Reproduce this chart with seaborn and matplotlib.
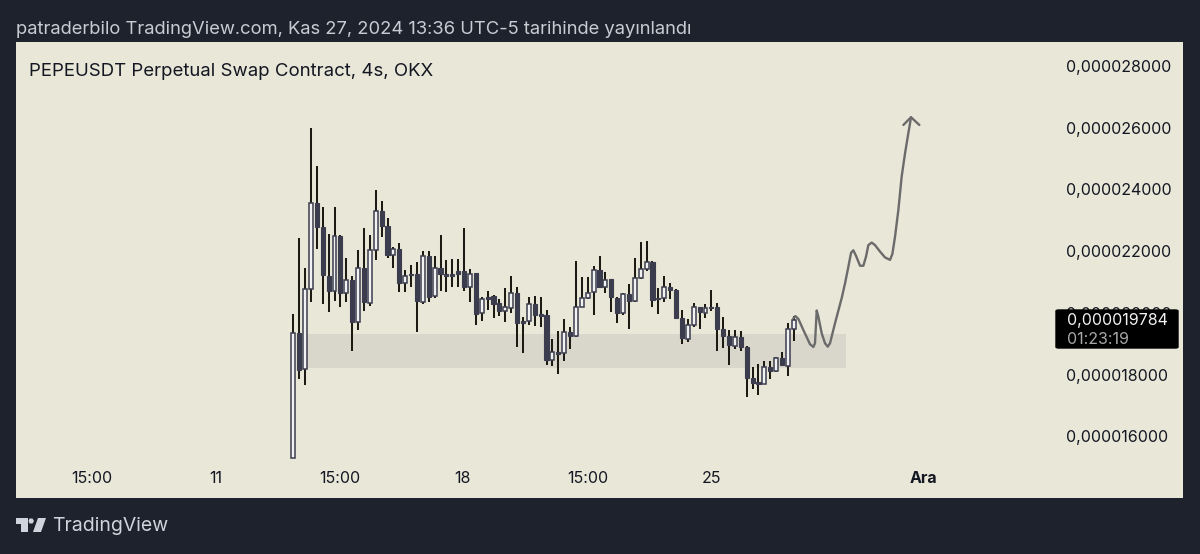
import numpy as np
import pandas as pd
import seaborn as sns
import matplotlib.pyplot as plt
from matplotlib.patches import Polygon, FancyBboxPatch

# prices in units of 1e-6
opens = [15.29, 19.34, 18.18, 20.78, 23.57, 22.80, 21.21, 20.72, 22.50, 20.64,
         21.07, 19.71, 21.45, 20.31, 22.04, 23.31, 22.82, 21.89, 22.06, 20.98,
         21.26, 21.26, 20.37, 21.86, 20.55, 21.45, 21.25, 21.27, 21.36, 21.36,
         20.84, 21.28, 19.99, 20.53, 20.55, 20.31, 20.07, 20.17, 20.66, 19.74,
         19.74, 20.29, 19.95, 19.92, 18.48, 18.75, 18.69, 19.37, 19.26, 20.21,
         20.48, 20.68, 21.39, 20.83, 21.09, 20.50, 19.99, 20.62, 20.39, 21.12,
         21.41, 21.66, 20.49, 20.48, 20.85, 20.75, 19.84, 19.15, 19.61, 20.18,
         20.01, 20.19, 20.18, 19.49, 19.26, 18.94, 19.23, 18.91, 17.91, 17.74,
         17.70, 18.26, 18.11, 18.54, 18.28, 19.49]
closes = [19.34, 18.15, 20.77, 23.57, 22.80, 21.23, 20.72, 22.49, 20.64, 21.07,
          19.71, 21.45, 20.35, 22.04, 23.29, 22.82, 21.88, 22.06, 20.98, 21.20,
          21.22, 20.40, 21.86, 20.53, 21.45, 21.25, 21.20, 21.20, 21.27, 20.83,
          21.26, 19.97, 20.45, 20.45, 20.29, 20.07, 20.18, 20.64, 19.67, 19.67,
          20.29, 19.92, 19.91, 18.48, 18.75, 18.68, 19.37, 19.27, 20.21, 20.48,
          20.66, 21.39, 20.83, 21.07, 20.51, 20.01, 20.62, 20.39, 21.12, 21.41,
          21.66, 20.42, 20.44, 20.85, 20.75, 19.83, 19.18, 19.61, 20.18, 20.02,
          20.15, 20.15, 19.49, 19.26, 18.95, 19.23, 18.91, 17.91, 17.72, 17.71,
          18.26, 18.12, 18.54, 18.32, 19.49, 19.784]
highs = [19.97, 22.42, 21.45, 25.98, 24.76, 23.44, 22.56, 23.42, 22.53, 21.77,
         21.20, 22.04, 22.76, 22.51, 23.98, 23.63, 23.07, 22.13, 22.26, 21.39,
         21.56, 21.66, 22.00, 22.02, 21.83, 22.54, 21.72, 21.74, 21.75, 22.76,
         21.43, 21.31, 20.53, 20.71, 20.58, 20.44, 20.82, 21.20, 20.83, 19.86,
         20.53, 20.55, 20.53, 20.10, 19.16, 19.42, 19.82, 19.56, 21.67, 21.16,
         21.18, 21.53, 21.84, 21.34, 21.09, 20.51, 20.64, 20.93, 21.78, 22.31,
         22.32, 21.70, 20.80, 21.20, 20.96, 20.77, 20.10, 19.81, 20.33, 20.21,
         20.29, 20.75, 20.31, 19.86, 19.45, 19.45, 19.43, 18.94, 18.24, 18.35,
         18.46, 18.46, 18.59, 18.73, 19.67, 19.90]
lows = [15.29, 17.85, 17.67, 20.37, 22.07, 20.29, 20.04, 20.40, 20.18, 20.34,
        18.78, 19.45, 20.08, 20.24, 21.72, 22.47, 21.79, 21.45, 20.67, 20.67,
        20.83, 19.40, 20.30, 20.37, 20.50, 20.71, 20.69, 20.83, 20.83, 20.72,
        20.37, 19.61, 19.74, 20.10, 19.83, 19.90, 19.71, 20.01, 18.89, 18.69,
        19.61, 19.58, 19.56, 18.33, 18.29, 18.02, 18.45, 18.83, 19.23, 20.18,
        20.45, 19.94, 20.81, 20.66, 20.02, 19.69, 19.94, 19.48, 20.37, 21.10,
        21.37, 20.18, 19.96, 20.37, 20.44, 19.81, 19.00, 19.07, 19.56, 19.47,
        19.83, 20.07, 18.78, 18.86, 18.32, 18.83, 18.78, 17.27, 17.53, 17.34,
        17.69, 17.86, 18.10, 18.28, 17.96, 19.10]

# hand drawn projection
path_x = [84.92, 85.26, 85.77, 86.62, 87.75, 88.32, 88.60, 88.89, 89.17, 89.74,
          90.30, 90.76, 91.15, 92.00, 93.13, 93.70, 94.27, 94.72, 95.11, 95.57,
          96.25, 96.81, 97.27, 97.66, 98.23, 98.79, 99.64, 100.49, 101.34, 101.74,
          102.19, 102.76, 103.32, 103.89, 104.45, 104.91]
path_y = [19.83, 19.90, 19.81, 19.45, 18.99, 18.90, 19.02, 20.08, 19.88, 19.34,
          19.02, 18.91, 19.02, 19.67, 20.48, 20.96, 21.50, 21.95, 22.03, 21.85,
          21.53, 21.53, 21.83, 22.20, 22.28, 22.20, 21.99, 21.80, 21.72, 21.91,
          22.47, 23.34, 24.42, 25.17, 25.82, 26.34]
arrow_x = [103.61, 104.91, 106.32]
arrow_y = [26.09, 26.34, 26.09]

zone_x = [1, 93.87]
zone_low = [18.21, 18.21]
zone_high = [19.31, 19.31]

price_ticks = [16, 18, 20, 22, 24, 26, 28]
price_labels = ['0,000016000', '0,000018000', '0,000020000', '0,000022000',
                '0,000024000', '0,000026000', '0,000028000']
time_ticks = [-34.2, -13.2, 7.9, 28.8, 50, 71, 107]
time_labels = ['15:00', '11', '15:00', '18', '15:00', '25', 'Ara']

bg_dark = '#1e222d'
panel = '#e9e7d8'
W, H = 1200, 554

sns.set_style('white')
plt.rcParams['font.family'] = ['Inter', 'DejaVu Sans']

fig = plt.figure(figsize=(12, 5.54), dpi=100, facecolor=bg_dark)
ax = fig.add_axes([16 / W, 1 - 498 / H, (1183 - 16) / W, (498 - 42) / H], facecolor=panel)

df = pd.DataFrame({'open': opens, 'close': closes, 'high': highs, 'low': lows})
df['i'] = df.index
df['top'] = df[['open', 'close']].max(axis=1)
df['bottom'] = df[['open', 'close']].min(axis=1)
up = df[df['close'] >= df['open']]
down = df[df['close'] < df['open']]

ax.fill_between(zone_x, zone_low, zone_high, color='#d9d7cb', lw=0, zorder=1)
ax.vlines(df['i'], df['low'], df['high'], color='#1d1a13', lw=1.45, zorder=3)
ax.bar(up['i'], up['top'] - up['bottom'], bottom=up['bottom'], width=0.66,
       color='#f2f2f2', edgecolor='#3b3d4e', lw=1.1, zorder=4)
ax.bar(down['i'], (down['top'] - down['bottom']).clip(lower=0.05), bottom=down['bottom'], width=0.7,
       color='#3b3d4e', edgecolor='#3b3d4e', lw=0.8, zorder=4)

path = pd.DataFrame({'x': path_x, 'y': path_y})
sns.lineplot(data=path, x='x', y='y', sort=False, estimator=None, color='#6b6b6b', lw=1.7, ax=ax, zorder=5)
sns.lineplot(x=arrow_x, y=arrow_y, sort=False, estimator=None, color='#6b6b6b', lw=1.7, ax=ax, zorder=5)

ax.set_xlim(-47.1, 151.1)
ax.set_ylim(14.008, 28.777)
ax.set_xlabel('')
ax.set_ylabel('')
sns.despine(ax=ax, left=True, bottom=True, right=True, top=True)

ax.yaxis.tick_right()
ax.set_yticks(price_ticks, price_labels)
ax.tick_params(axis='y', length=0, pad=-84, labelsize=11.5, labelcolor='#131722')
for lab in ax.get_yticklabels():
    lab.set_horizontalalignment('left')
ax.set_xticks(time_ticks, time_labels)
ax.tick_params(axis='x', length=0, pad=-19.5, labelsize=11.5, labelcolor='#131722')
ax.get_xticklabels()[-1].set_fontweight('bold')

fig.text(16 / W, 1 - 30 / H, 'patraderbilo TradingView.com, Kas 27, 2024 13:36 UTC-5 tarihinde yayınlandı',
         color='#c9cbd2', fontsize=13.25, va='center')
fig.text(29 / W, 1 - 72 / H, 'PEPEUSDT Perpetual Swap Contract, 4s, OKX',
         color='#131722', fontsize=13.4, va='center')

# last price tag
tag = FancyBboxPatch((1056 / W, 1 - 348 / H), 122 / W, 38 / H, boxstyle='round,pad=0,rounding_size=0.002',
                     transform=fig.transFigure, fc='black', ec='black', lw=1, zorder=6)
fig.add_artist(tag)
fig.text(1067 / W, 1 - 320 / H, '0,000019784', color='#f2f2f2', fontsize=11.5, va='center', zorder=7)
fig.text(1067 / W, 1 - 340 / H, '01:23:19', color='#a8a8a8', fontsize=11.5, va='center', zorder=7)

# logo
logo_col = '#d1d4dc'
def px(points):
    return [(x / W, 1 - y / H) for x, y in points]
fig.add_artist(Polygon(px([(16, 518), (28, 518), (28, 532), (21, 532), (21, 524), (16, 524)]),
                       transform=fig.transFigure, fc=logo_col, ec='none'))
fig.add_artist(Polygon(px([(38, 518), (46, 518), (41, 532), (33, 532)]),
                       transform=fig.transFigure, fc=logo_col, ec='none'))
fig.add_artist(Polygon(px([(29.5, 518.5), (32.5, 518.5), (34, 521), (32.5, 523.5), (29.5, 523.5), (28.5, 521)]),
                       transform=fig.transFigure, fc=logo_col, ec='none'))
fig.text(52 / W, 1 - 526 / H, 'TradingView', color=logo_col, fontsize=14, va='center')

fig.savefig('out.png', dpi=100, facecolor=bg_dark)
